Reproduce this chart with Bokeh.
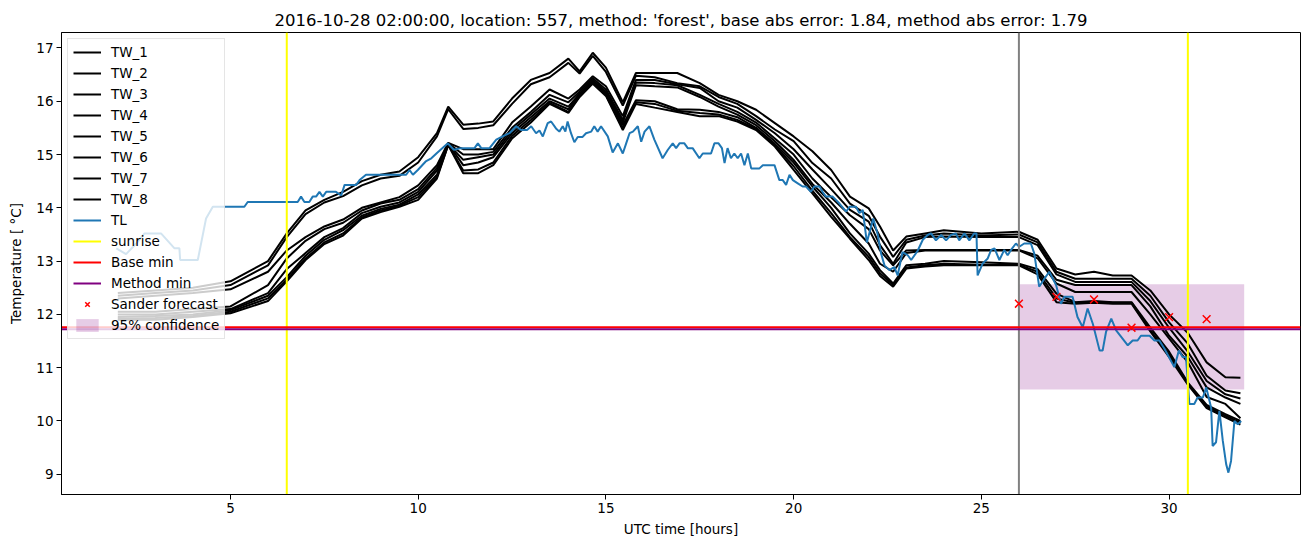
from bokeh.plotting import figure
from bokeh.models import Range1d, FixedTicker, Legend, LegendItem
from bokeh.embed import file_html
from bokeh.resources import INLINE

TITLE = "2016-10-28 02:00:00, location: 557, method: 'forest', base abs error: 1.84, method abs error: 1.79"

# ---- data ----
HOURS = [2.0, 3.0, 4.0, 5.0, 6.0, 6.5, 7.0, 7.5, 8.0, 8.5, 9.0, 9.5, 10.0, 10.5, 10.8, 11.2, 11.6,
         12.0, 12.5, 13.0, 13.5, 14.0, 14.3, 14.65, 15.0, 15.45, 15.8, 16.3, 16.9, 17.5, 18.0, 18.5,
         19.0, 19.5, 20.0, 20.5, 21.0, 21.5, 22.0, 22.3, 22.65, 23.0, 23.5, 24.0, 25.0, 26.0, 26.5,
         27.0, 27.5, 28.0, 28.5, 29.0, 29.5, 30.0, 30.5, 31.0, 31.5, 31.9]

TW_ROWS = [
    [12.40, 12.35, 12.30, 12.05, 12.00, 11.95, 11.92, 11.90],
    [12.45, 12.40, 12.35, 12.05, 12.00, 11.97, 11.93, 11.90],
    [12.50, 12.45, 12.40, 12.10, 12.05, 12.00, 11.97, 11.95],
    [12.62, 12.55, 12.47, 12.15, 12.10, 12.08, 12.05, 12.02],
    [13.00, 12.92, 12.80, 12.55, 12.40, 12.35, 12.30, 12.25],
    [13.52, 13.45, 13.20, 13.05, 12.85, 12.70, 12.65, 12.62],
    [13.95, 13.88, 13.45, 13.38, 13.15, 13.10, 13.05, 13.02],
    [14.15, 14.10, 13.65, 13.60, 13.45, 13.40, 13.35, 13.32],
    [14.30, 14.22, 13.78, 13.72, 13.62, 13.58, 13.52, 13.48],
    [14.50, 14.42, 14.00, 13.95, 13.90, 13.85, 13.82, 13.80],
    [14.62, 14.55, 14.10, 14.08, 14.02, 13.98, 13.95, 13.92],
    [14.68, 14.60, 14.20, 14.15, 14.10, 14.06, 14.04, 14.02],
    [14.95, 14.85, 14.42, 14.35, 14.30, 14.25, 14.20, 14.15],
    [15.40, 15.34, 14.80, 14.75, 14.70, 14.62, 14.58, 14.55],
    [15.90, 15.85, 15.22, 15.21, 15.20, 15.20, 15.18, 15.18],
    [15.56, 15.48, 15.10, 15.00, 14.90, 14.80, 14.70, 14.65],
    [15.58, 15.50, 15.10, 15.00, 14.95, 14.85, 14.72, 14.65],
    [15.62, 15.55, 15.10, 15.05, 15.00, 14.95, 14.85, 14.80],
    [16.05, 15.95, 15.60, 15.50, 15.45, 15.40, 15.35, 15.30],
    [16.40, 16.32, 15.90, 15.80, 15.75, 15.70, 15.65, 15.60],
    [16.53, 16.45, 16.22, 16.12, 16.05, 16.00, 15.97, 15.95],
    [16.80, 16.72, 16.05, 15.98, 15.90, 15.85, 15.80, 15.78],
    [16.56, 16.52, 16.22, 16.18, 16.14, 16.12, 16.10, 16.08],
    [16.91, 16.85, 16.47, 16.43, 16.40, 16.37, 16.35, 16.33],
    [16.63, 16.55, 16.28, 16.22, 16.18, 16.15, 16.12, 16.10],
    [15.98, 15.92, 15.72, 15.65, 15.60, 15.55, 15.50, 15.46],
    [16.53, 16.48, 16.40, 16.35, 16.30, 16.02, 15.98, 15.95],
    [16.53, 16.45, 16.40, 16.34, 16.28, 16.00, 15.95, 15.88],
    [16.53, 16.34, 16.32, 16.30, 16.26, 15.85, 15.82, 15.80],
    [16.34, 16.28, 16.25, 16.12, 16.08, 15.84, 15.78, 15.72],
    [16.12, 16.08, 16.00, 15.95, 15.90, 15.80, 15.75, 15.72],
    [16.00, 15.95, 15.88, 15.80, 15.75, 15.70, 15.65, 15.62],
    [15.84, 15.72, 15.65, 15.60, 15.55, 15.50, 15.48, 15.46],
    [15.59, 15.47, 15.40, 15.30, 15.25, 15.20, 15.17, 15.15],
    [15.34, 15.25, 15.10, 15.00, 14.90, 14.85, 14.78, 14.71],
    [15.06, 14.84, 14.72, 14.55, 14.45, 14.40, 14.32, 14.27],
    [14.71, 14.55, 14.35, 14.20, 14.10, 14.00, 13.90, 13.83],
    [14.21, 14.08, 13.96, 13.86, 13.70, 13.52, 13.45, 13.42],
    [13.99, 13.85, 13.74, 13.60, 13.33, 13.14, 13.08, 13.02],
    [13.65, 13.46, 13.30, 13.20, 12.95, 12.83, 12.77, 12.72],
    [13.20, 13.08, 12.95, 12.92, 12.80, 12.58, 12.55, 12.52],
    [13.46, 13.40, 13.35, 13.20, 13.15, 12.92, 12.88, 12.86],
    [13.52, 13.48, 13.45, 13.21, 13.20, 12.95, 12.92, 12.90],
    [13.58, 13.52, 13.46, 13.21, 13.20, 13.00, 12.95, 12.92],
    [13.52, 13.48, 13.45, 13.21, 13.20, 12.98, 12.93, 12.92],
    [13.55, 13.50, 13.45, 13.21, 13.20, 12.95, 12.93, 12.92],
    [13.40, 13.35, 13.30, 13.10, 13.05, 12.85, 12.80, 12.75],
    [12.86, 12.80, 12.75, 12.65, 12.58, 12.39, 12.30, 12.23],
    [12.75, 12.67, 12.61, 12.55, 12.42, 12.23, 12.22, 12.20],
    [12.80, 12.67, 12.61, 12.55, 12.42, 12.25, 12.23, 12.22],
    [12.73, 12.67, 12.61, 12.55, 12.42, 12.23, 12.22, 12.20],
    [12.73, 12.67, 12.61, 12.55, 12.42, 12.23, 12.22, 12.20],
    [12.45, 12.35, 12.25, 12.15, 12.00, 11.75, 11.70, 11.68],
    [12.00, 11.85, 11.75, 11.60, 11.55, 11.30, 11.25, 11.20],
    [11.65, 11.45, 11.30, 11.20, 11.10, 10.72, 10.70, 10.68],
    [11.10, 10.85, 10.75, 10.63, 10.45, 10.30, 10.27, 10.24],
    [10.82, 10.57, 10.50, 10.44, 10.32, 10.13, 10.10, 10.07],
    [10.81, 10.52, 10.42, 10.32, 10.05, 10.00, 9.97, 9.93],
]
TW_NAMES = ["TW_1", "TW_2", "TW_3", "TW_4", "TW_5", "TW_6", "TW_7", "TW_8"]

TL_X = [1.96, 2.22, 2.49, 2.71, 3.15, 3.51, 3.64, 3.66, 4.13, 4.35, 4.53, 5.37, 5.46, 6.79, 6.88,
        6.97, 7.10, 7.19, 7.28, 7.37, 7.46, 7.55, 7.81, 7.95, 8.04, 8.35, 8.44, 8.61, 9.68, 9.77,
        9.86, 9.99, 10.20, 10.35, 10.50, 10.79, 10.95, 11.14, 11.50, 11.59, 11.68, 11.90, 12.08,
        12.25, 12.43, 12.61, 12.74, 12.90, 13.01, 13.14, 13.23, 13.32, 13.45, 13.54, 13.67, 13.76,
        13.85, 13.92, 13.98, 14.07, 14.16, 14.25, 14.38, 14.47, 14.61, 14.69, 14.78, 14.87, 15.05,
        15.18, 15.32, 15.45, 15.54, 15.63, 15.72, 15.85, 15.94, 16.03, 16.16, 16.29, 16.51, 16.65,
        16.78, 16.87, 16.96, 17.09, 17.18, 17.31, 17.49, 17.58, 17.80, 17.89, 18.00, 18.09, 18.16,
        18.24, 18.33, 18.42, 18.51, 18.60, 18.69, 18.78, 18.87, 19.09, 19.18, 19.49, 19.62, 19.71,
        19.80, 19.89, 19.98, 20.11, 20.24, 20.33, 20.46, 20.55, 20.69, 20.77, 20.86, 21.04, 21.22,
        21.40, 21.49, 21.66, 21.75, 21.84, 21.95, 22.12, 22.24, 22.33, 22.42, 22.55, 22.68, 22.77,
        22.90, 23.04, 23.13, 23.30, 23.44, 23.57, 23.66, 23.79, 23.93, 24.06, 24.19, 24.32, 24.41,
        24.55, 24.68, 24.81, 24.87, 24.90, 25.03, 25.17, 25.26, 25.35, 25.48, 25.61, 25.70, 25.79,
        25.92, 26.01, 26.14, 26.32, 26.41, 26.54, 26.68, 26.81, 26.99, 27.12, 27.21, 27.43, 27.56,
        27.70, 27.83, 27.97, 28.15, 28.23, 28.32, 28.46, 28.59, 28.90, 29.03, 29.16, 29.25, 29.48,
        29.61, 29.74, 29.88, 30.14, 30.26, 30.36, 30.45, 30.54, 30.67, 30.76, 30.90, 30.99, 31.12,
        31.16, 31.25, 31.34, 31.43, 31.52, 31.58, 31.65, 31.74, 31.83, 31.92]
TL_Y = [13.24, 13.13, 13.33, 13.52, 13.52, 13.24, 13.24, 13.02, 13.02, 13.80, 14.02, 14.02, 14.11,
        14.11, 14.21, 14.11, 14.11, 14.21, 14.21, 14.30, 14.21, 14.30, 14.30, 14.23, 14.43, 14.43,
        14.52, 14.62, 14.62, 14.71, 14.62, 14.71, 14.87, 14.93, 15.03, 15.21, 15.09, 15.12, 15.12,
        15.21, 15.12, 15.12, 15.28, 15.34, 15.40, 15.53, 15.46, 15.46, 15.53, 15.40, 15.45, 15.34,
        15.59, 15.62, 15.49, 15.43, 15.53, 15.43, 15.62, 15.40, 15.23, 15.33, 15.33, 15.40, 15.43,
        15.53, 15.43, 15.53, 15.34, 15.04, 15.21, 15.02, 15.21, 15.40, 15.43, 15.53, 15.24, 15.43,
        15.53, 15.28, 14.93, 15.09, 15.21, 15.12, 15.21, 15.21, 15.12, 15.12, 14.93, 15.02, 15.02,
        15.21, 15.21, 15.12, 14.84, 15.12, 14.93, 15.02, 14.93, 15.02, 14.80, 15.02, 14.74, 14.74,
        14.80, 14.80, 14.52, 14.52, 14.43, 14.62, 14.52, 14.46, 14.40, 14.40, 14.30, 14.40, 14.40,
        14.30, 14.21, 14.21, 14.08, 13.93, 14.02, 14.02, 13.90, 13.96, 13.35, 13.80, 13.50, 13.14,
        12.92, 12.83, 12.89, 12.73, 13.17, 13.11, 13.02, 13.19, 13.40, 13.49, 13.52, 13.39, 13.49,
        13.39, 13.49, 13.52, 13.39, 13.52, 13.39, 13.52, 13.52, 12.73, 12.95, 13.05, 13.21, 13.24,
        13.02, 13.21, 13.11, 13.21, 13.33, 13.27, 13.33, 13.33, 13.14, 12.52, 12.67, 12.80, 12.55,
        12.20, 12.33, 12.33, 11.95, 11.76, 12.11, 11.82, 11.32, 11.32, 11.67, 11.92, 11.70, 11.42,
        11.51, 11.51, 11.60, 11.60, 11.51, 11.51, 11.35, 11.01, 11.32, 11.20, 11.20, 10.32, 10.32,
        10.44, 10.44, 10.63, 10.25, 9.53, 9.60, 10.19, 9.63, 9.19, 9.03, 9.25, 10.00, 9.94, 10.00]

SUNRISE = [6.5, 30.5]
FORECAST_START = 26.0
BASE_MIN = 11.76
METHOD_MIN = 11.72
SANDER_X = [26, 27, 28, 29, 30, 31]
SANDER_Y = [12.20, 12.33, 12.28, 11.75, 11.95, 11.91]
CONF_LEFT = 26.0
CONF_RIGHT = 32.0
CONF_LOW = 10.59
CONF_HIGH = 12.565

X_LIM = (0.5, 33.5)
Y_LIM = (8.62, 17.29)
X_TICKS = [5, 10, 15, 20, 25, 30]
Y_TICKS = [9, 10, 11, 12, 13, 14, 15, 16, 17]

FONT = "DejaVu Sans"

p = figure(frame_width=1239, frame_height=462,
           x_range=Range1d(*X_LIM), y_range=Range1d(*Y_LIM),
           output_backend="svg", toolbar_location=None, title=TITLE,
           min_border_left=61, min_border_right=2, min_border_top=32, min_border_bottom=45)

p.title.align = "center"
p.title.text_font = FONT
p.title.text_font_size = "16.5px"
p.title.text_font_style = "normal"
p.title.text_color = "black"
p.title.standoff = 5

p.xgrid.visible = False
p.ygrid.visible = False
p.outline_line_color = "black"
p.outline_line_alpha = 1.0
p.outline_line_width = 1

for ax, ticks in ((p.xaxis, X_TICKS), (p.yaxis, Y_TICKS)):
    ax.ticker = FixedTicker(ticks=ticks)
    ax.minor_tick_line_color = None
    ax.major_tick_in = 0
    ax.major_tick_out = 5
    ax.major_tick_line_color = "black"
    ax.major_label_text_font = FONT
    ax.major_label_text_font_size = "13.5px"
    ax.major_label_text_color = "black"
    ax.axis_label_text_font = FONT
    ax.axis_label_text_font_size = "13.5px"
    ax.axis_label_text_font_style = "normal"
    ax.axis_label_text_color = "black"
    ax.axis_line_color = "black"
    ax.major_label_standoff = 3

p.xaxis.axis_label = "UTC time [hours]"
p.yaxis.axis_label = "Temperature [ \u00b0C]"
p.xaxis.axis_label_standoff = 5
p.yaxis.axis_label_standoff = 9

# confidence box (under lines)
conf = p.quad(left=[CONF_LEFT], right=[CONF_RIGHT], bottom=[CONF_LOW], top=[CONF_HIGH],
              fill_color="purple", fill_alpha=0.2, line_color=None)

items = []
for j, name in enumerate(TW_NAMES):
    ys = [row[j] for row in TW_ROWS]
    r = p.line(HOURS, ys, line_color="black", line_width=2)
    items.append(LegendItem(label=name, renderers=[r]))

tl = p.line(TL_X, TL_Y, line_color="#1f77b4", line_width=2)
items.append(LegendItem(label="TL", renderers=[tl]))

sun = p.segment(x0=SUNRISE, y0=[Y_LIM[0]] * len(SUNRISE), x1=SUNRISE, y1=[Y_LIM[1]] * len(SUNRISE),
                line_color="yellow", line_width=2)
items.append(LegendItem(label="sunrise", renderers=[sun]))

p.segment(x0=[FORECAST_START], y0=[Y_LIM[0]], x1=[FORECAST_START], y1=[Y_LIM[1]],
          line_color="gray", line_width=2)

base = p.segment(x0=[X_LIM[0]], y0=[BASE_MIN], x1=[X_LIM[1]], y1=[BASE_MIN],
                 line_color="red", line_width=2)
items.append(LegendItem(label="Base min", renderers=[base]))

meth = p.segment(x0=[X_LIM[0]], y0=[METHOD_MIN], x1=[X_LIM[1]], y1=[METHOD_MIN],
                 line_color="purple", line_width=2)
items.append(LegendItem(label="Method min", renderers=[meth]))

sand = p.scatter(SANDER_X, SANDER_Y, marker="x", size=11, line_color="red", line_width=1.5)
items.append(LegendItem(label="Sander forecast", renderers=[sand]))
items.append(LegendItem(label="95% confidence", renderers=[conf]))

legend = Legend(items=items, location="top_left")
legend.label_text_font = FONT
legend.label_text_font_size = "13.5px"
legend.label_text_color = "black"
legend.glyph_width = 28
legend.glyph_height = 16
legend.label_height = 16
legend.spacing = 5
legend.padding = 5
legend.margin = 6
legend.label_standoff = 10
legend.border_line_color = "#cccccc"
legend.border_line_width = 1
legend.background_fill_alpha = 0.8
p.add_layout(legend)

open("out.html", "w").write(file_html(p, INLINE))
